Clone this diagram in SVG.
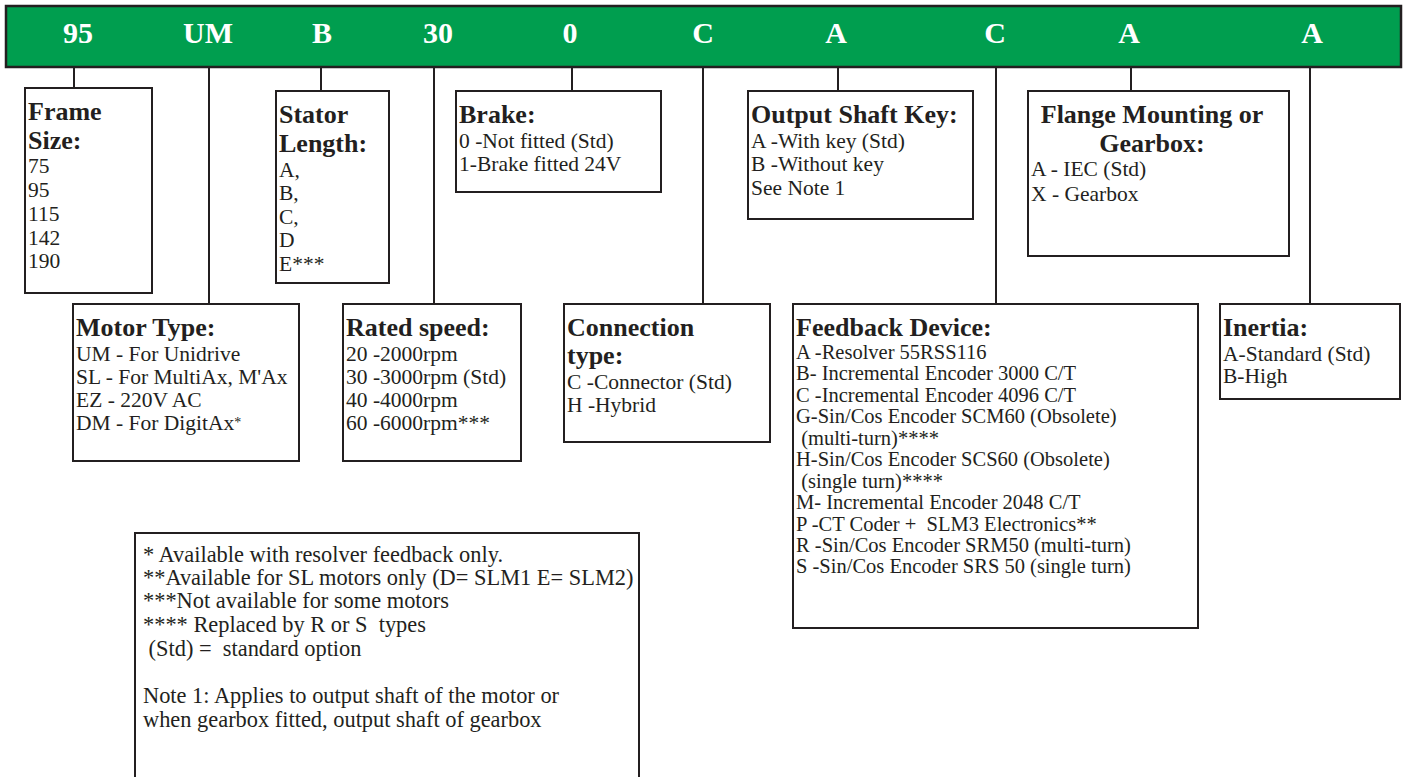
<svg xmlns="http://www.w3.org/2000/svg" width="1405" height="777" viewBox="0 0 1405 777">
<style>
.box{fill:#ffffff;stroke:#231f20;stroke-width:2}
.bar{fill:#009e4f;stroke:#231f20;stroke-width:2.5}
.ln{stroke:#231f20;stroke-width:2;fill:none}
.hd{font-family:"Liberation Serif","Times New Roman",serif;font-weight:bold;font-size:30px;fill:#ffffff;text-anchor:middle}
.t{font-family:"Liberation Serif","Times New Roman",serif;font-size:21.5px;fill:#231f20}
.f{font-family:"Liberation Serif","Times New Roman",serif;font-size:20.5px;fill:#231f20}
.b{font-family:"Liberation Serif","Times New Roman",serif;font-weight:bold;font-size:26px;fill:#231f20}
.n{font-family:"Liberation Serif","Times New Roman",serif;font-size:22.4px;fill:#231f20}
</style>
<rect width="1405" height="777" fill="#ffffff"/>
<g id="code-bar">
<rect class="bar" x="6" y="6" width="1395" height="61"/>
<text class="hd" x="78" y="43">95</text>
<text class="hd" x="208" y="43">UM</text>
<text class="hd" x="322" y="43">B</text>
<text class="hd" x="438" y="43">30</text>
<text class="hd" x="570" y="43">0</text>
<text class="hd" x="703" y="43">C</text>
<text class="hd" x="836" y="43">A</text>
<text class="hd" x="995" y="43">C</text>
<text class="hd" x="1129" y="43">A</text>
<text class="hd" x="1312" y="43">A</text>
</g>
<g id="connectors">
<line class="ln" x1="74" y1="67" x2="74" y2="88"/>
<line class="ln" x1="209" y1="67" x2="209" y2="304"/>
<line class="ln" x1="321" y1="67" x2="321" y2="91"/>
<line class="ln" x1="434" y1="67" x2="434" y2="304"/>
<line class="ln" x1="572" y1="67" x2="572" y2="91"/>
<line class="ln" x1="703" y1="67" x2="703" y2="304"/>
<line class="ln" x1="838" y1="67" x2="838" y2="91"/>
<line class="ln" x1="996" y1="67" x2="996" y2="304"/>
<line class="ln" x1="1131" y1="67" x2="1131" y2="91"/>
<line class="ln" x1="1310" y1="67" x2="1310" y2="304"/>
</g>
<g id="frame-size">
<rect class="box" x="25" y="88" width="127" height="205"/>
<text class="b" x="28" y="120">Frame</text>
<text class="b" x="28" y="149">Size:</text>
<text class="t" x="28" y="173">75</text>
<text class="t" x="28" y="197">95</text>
<text class="t" x="28" y="221">115</text>
<text class="t" x="28" y="245">142</text>
<text class="t" x="28" y="268">190</text>
</g>
<g id="stator-length">
<rect class="box" x="276" y="91" width="113" height="192"/>
<text class="b" x="279" y="123">Stator</text>
<text class="b" x="279" y="152">Length:</text>
<text class="t" x="279" y="177">A,</text>
<text class="t" x="279" y="200">B,</text>
<text class="t" x="279" y="224">C,</text>
<text class="t" x="279" y="247">D</text>
<text class="t" x="279" y="271">E***</text>
</g>
<g id="brake">
<rect class="box" x="456" y="91" width="205" height="101"/>
<text class="b" x="459" y="123">Brake:</text>
<text class="t" x="459" y="148">0 -Not fitted (Std)</text>
<text class="t" x="459" y="171">1-Brake fitted 24V</text>
</g>
<g id="output-shaft-key">
<rect class="box" x="748" y="91" width="225" height="128"/>
<text class="b" x="751" y="123">Output Shaft Key:</text>
<text class="t" x="751" y="148">A -With key (Std)</text>
<text class="t" x="751" y="171">B -Without key</text>
<text class="t" x="751" y="195">See Note 1</text>
</g>
<g id="flange-mounting">
<rect class="box" x="1028" y="91" width="261" height="165"/>
<text class="b" x="1152" y="123" text-anchor="middle">Flange Mounting or</text>
<text class="b" x="1152" y="152" text-anchor="middle">Gearbox:</text>
<text class="t" x="1031" y="176">A - IEC (Std)</text>
<text class="t" x="1031" y="201">X - Gearbox</text>
</g>
<g id="motor-type">
<rect class="box" x="73" y="304" width="226" height="157"/>
<text class="b" x="76" y="336">Motor Type:</text>
<text class="t" x="76" y="361">UM - For Unidrive</text>
<text class="t" x="76" y="384">SL - For MultiAx, M'Ax</text>
<text class="t" x="76" y="407">EZ - 220V AC</text>
<text class="t" x="76" y="430">DM - For DigitAx<tspan font-size="14" dy="-3">*</tspan></text>
</g>
<g id="rated-speed">
<rect class="box" x="343" y="304" width="178" height="157"/>
<text class="b" x="346" y="336">Rated speed:</text>
<text class="t" x="346" y="361">20 -2000rpm</text>
<text class="t" x="346" y="384">30 -3000rpm (Std)</text>
<text class="t" x="346" y="407">40 -4000rpm</text>
<text class="t" x="346" y="430">60 -6000rpm***</text>
</g>
<g id="connection-type">
<rect class="box" x="564" y="304" width="206" height="138"/>
<text class="b" x="567" y="336">Connection</text>
<text class="b" x="567" y="364">type:</text>
<text class="t" x="567" y="389">C -Connector (Std)</text>
<text class="t" x="567" y="412">H -Hybrid</text>
</g>
<g id="feedback-device">
<rect class="box" x="793" y="304" width="405" height="324"/>
<text class="b" x="796" y="336">Feedback Device:</text>
<text class="f" x="796" y="359">A -Resolver 55RSS116</text>
<text class="f" x="796" y="380">B- Incremental Encoder 3000 C/T</text>
<text class="f" x="796" y="402">C -Incremental Encoder 4096 C/T</text>
<text class="f" x="796" y="423">G-Sin/Cos Encoder SCM60 (Obsolete)</text>
<text class="f" x="796" y="445" xml:space="preserve"> (multi-turn)****</text>
<text class="f" x="796" y="466">H-Sin/Cos Encoder SCS60 (Obsolete)</text>
<text class="f" x="796" y="488" xml:space="preserve"> (single turn)****</text>
<text class="f" x="796" y="509">M- Incremental Encoder 2048 C/T</text>
<text class="f" x="796" y="531" xml:space="preserve">P -CT Coder +  SLM3 Electronics**</text>
<text class="f" x="796" y="552">R -Sin/Cos Encoder SRM50 (multi-turn)</text>
<text class="f" x="796" y="573">S -Sin/Cos Encoder SRS 50 (single turn)</text>
</g>
<g id="inertia">
<rect class="box" x="1220" y="304" width="180" height="95"/>
<text class="b" x="1223" y="336">Inertia:</text>
<text class="t" x="1223" y="361">A-Standard (Std)</text>
<text class="t" x="1223" y="383">B-High</text>
</g>
<g id="notes">
<rect class="box" x="135" y="533" width="504" height="270"/>
<text class="n" x="143" y="562">* Available with resolver feedback only.</text>
<text class="n" x="143" y="585">**Available for SL motors only (D= SLM1 E= SLM2)</text>
<text class="n" x="143" y="608">***Not available for some motors</text>
<text class="n" x="143" y="632" xml:space="preserve">**** Replaced by R or S  types</text>
<text class="n" x="143" y="656" xml:space="preserve"> (Std) =  standard option</text>
<text class="n" x="143" y="703">Note 1: Applies to output shaft of the motor or</text>
<text class="n" x="143" y="727">when gearbox fitted, output shaft of gearbox</text>
</g>
</svg>
